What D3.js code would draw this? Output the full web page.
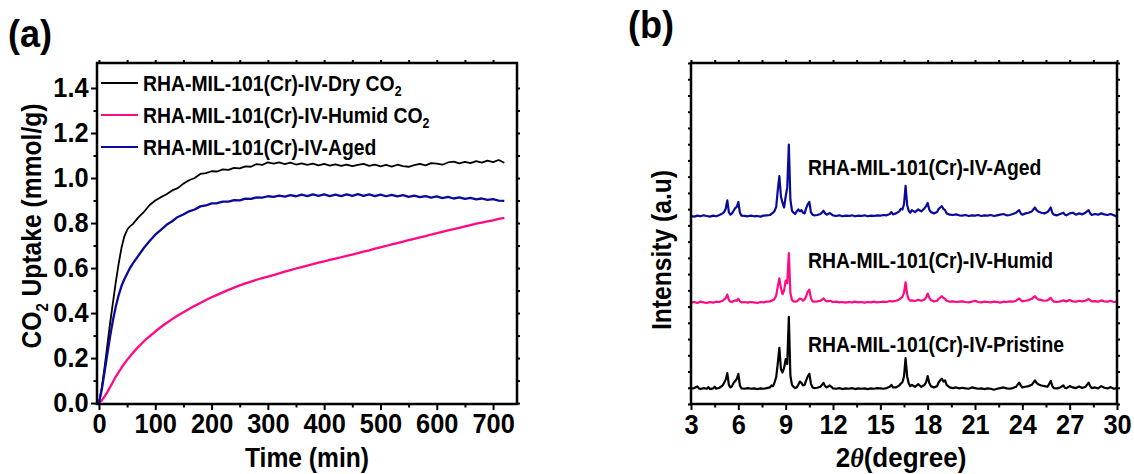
<!DOCTYPE html>
<html>
<head>
<meta charset="utf-8">
<script src="https://cdn.jsdelivr.net/npm/d3@7"></script>
<style>
  body { margin: 0; background: #fff; }
  svg text { font-family: "Liberation Sans", Arial, Helvetica, sans-serif; font-weight: bold; fill: #000; }
</style>
</head>
<body>
<svg id="fig" width="1134" height="474"></svg>
<script>
// ---------- (a) CO2 uptake kinetics ----------
const timeMin = [0,5,10,15,20,25,30,35,40,45,50,55,60,70,80,90,100,110,120,130,140,150,160,170,180,190,200,
  210,220,230,240,250,260,270,280,290,300,310,320,330,340,350,360,370,380,390,400,410,420,430,440,450,460,470,
  480,490,500,510,520,530,540,550,560,570,580,590,600,610,620,630,640,650,660,670,680,690,700,710,720];

const uptakeDry = [0,0.07,0.16,0.26,0.36,0.45,0.54,0.62,0.69,0.74,0.77,0.785,0.795,0.825,0.85,0.88,0.9,0.915,0.928,0.945,0.955,0.975,0.99,1.0,1.018,1.022,1.03,
  1.029,1.038,1.036,1.045,1.043,1.052,1.05,1.062,1.058,1.07,1.064,1.069,1.062,1.068,1.06,1.065,1.058,1.064,1.056,1.063,1.055,1.061,1.054,1.06,1.053,1.058,1.063,
  1.054,1.059,1.052,1.058,1.051,1.059,1.053,1.05,1.057,1.063,1.056,1.066,1.064,1.059,1.069,1.073,1.065,1.072,1.066,1.075,1.068,1.077,1.071,1.08,1.068];

const uptakeHumid = [0,0.012,0.03,0.05,0.072,0.095,0.118,0.138,0.157,0.175,0.192,0.207,0.222,0.25,0.275,0.297,0.318,0.338,0.356,0.373,0.389,0.404,0.418,0.432,0.445,0.458,0.47,
  0.481,0.492,0.503,0.513,0.523,0.532,0.54,0.548,0.555,0.562,0.569,0.576,0.584,0.591,0.598,0.604,0.611,0.617,0.624,0.63,0.636,0.642,0.648,0.654,0.66,0.666,0.673,
  0.679,0.686,0.692,0.698,0.705,0.711,0.717,0.724,0.73,0.736,0.742,0.749,0.755,0.761,0.767,0.773,0.779,0.785,0.791,0.797,0.802,0.807,0.812,0.818,0.823];

const uptakeAged = [0,0.06,0.14,0.22,0.3,0.37,0.43,0.48,0.52,0.55,0.575,0.6,0.62,0.655,0.69,0.72,0.748,0.77,0.792,0.808,0.827,0.838,0.852,0.86,0.874,0.878,0.887,
  0.888,0.895,0.895,0.902,0.901,0.908,0.907,0.914,0.913,0.919,0.916,0.922,0.917,0.924,0.919,0.926,0.92,0.927,0.921,0.927,0.92,0.926,0.92,0.927,0.921,0.928,0.921,
  0.927,0.92,0.926,0.919,0.925,0.918,0.924,0.916,0.922,0.915,0.92,0.913,0.918,0.911,0.916,0.909,0.914,0.907,0.912,0.905,0.909,0.903,0.906,0.9,0.898];

const uptakeNames = ["RHA-MIL-101(Cr)-IV-Dry CO", "RHA-MIL-101(Cr)-IV-Humid CO", "RHA-MIL-101(Cr)-IV-Aged"];
const uptakeSubs = ["2", "2", ""];
const uptakeColors = ["#000000", "#ff0a84", "#0a0a9c"];
const timeTicks = [0,100,200,300,400,500,600,700];
const timeMinorTicks = [50,150,250,350,450,550,650];
const uptakeTicks = [0,0.2,0.4,0.6,0.8,1.0,1.2,1.4];
const uptakeMinorTicks = [0.1,0.3,0.5,0.7,0.9,1.1,1.3];

// ---------- (b) XRD patterns: [2theta, intensity above own baseline] ----------
const xrdPristine = [[3.0,2],[3.2,4],[3.4,9],[3.5,3],[3.6,1],[3.8,4],[4.0,2],[4.1,7],[4.2,1],[4.4,3],[4.5,8],[4.6,2],[4.8,5],[5.0,12],[5.1,20],[5.2,30],[5.3,50],[5.4,14],[5.5,6],[5.6,10],[5.7,20],[5.8,26],[5.9,32],[6.0,48],[6.1,12],[6.2,3],[6.4,2],[6.6,4],[6.8,2],[7.0,3],[7.2,1],[7.4,3],[7.6,2],[7.8,4],[8.0,6],[8.1,12],[8.2,10],[8.3,22],[8.4,38],[8.5,80],[8.6,128],[8.7,62],[8.8,52],[8.9,66],[9.0,93],[9.1,78],[9.2,223],[9.3,42],[9.4,14],[9.5,8],[9.6,4],[9.7,6],[9.8,14],[9.9,24],[10.0,20],[10.1,12],[10.2,14],[10.3,28],[10.4,40],[10.5,48],[10.6,18],[10.7,6],[10.8,4],[11.0,5],[11.2,8],[11.3,14],[11.4,20],[11.5,10],[11.6,6],[11.8,12],[11.9,8],[12.0,3],[12.2,2],[12.4,4],[12.6,1],[12.8,3],[13.0,2],[13.2,4],[13.4,1],[13.6,3],[13.8,2],[14.0,3],[14.2,1],[14.4,3],[14.6,2],[14.8,4],[15.0,3],[15.2,2],[15.4,4],[15.6,8],[15.7,14],[15.8,6],[16.0,6],[16.2,12],[16.3,18],[16.4,22],[16.5,40],[16.6,96],[16.7,40],[16.8,18],[16.9,10],[17.0,14],[17.2,8],[17.4,16],[17.5,12],[17.6,8],[17.8,14],[17.9,22],[18.0,41],[18.1,20],[18.2,10],[18.4,6],[18.6,10],[18.7,22],[18.8,28],[18.9,33],[19.0,24],[19.1,28],[19.2,14],[19.4,6],[19.6,4],[19.8,6],[20.0,3],[20.2,5],[20.4,3],[20.6,2],[20.8,6],[21.0,4],[21.2,2],[21.4,3],[21.6,1],[21.8,3],[22.0,2],[22.2,-1],[22.4,2],[22.6,4],[22.8,6],[23.0,3],[23.2,2],[23.4,4],[23.6,8],[23.8,21],[23.9,12],[24.0,6],[24.2,8],[24.4,10],[24.6,14],[24.8,28],[24.9,20],[25.0,16],[25.2,12],[25.4,10],[25.6,8],[25.8,26],[25.9,10],[26.0,4],[26.2,3],[26.4,6],[26.6,12],[26.7,5],[26.8,4],[27.0,10],[27.2,6],[27.4,4],[27.6,9],[27.8,4],[28.0,8],[28.2,21],[28.3,10],[28.4,4],[28.6,6],[28.8,3],[29.0,10],[29.2,5],[29.4,3],[29.6,7],[29.8,2],[30.0,4]];

const xrdHumid = [[3.0,0],[3.2,2],[3.4,-1],[3.6,3],[3.8,1],[4.0,-1],[4.2,2],[4.4,0],[4.6,3],[4.8,2],[5.0,6],[5.1,10],[5.2,14],[5.3,25],[5.4,8],[5.5,3],[5.6,2],[5.7,5],[5.8,7],[5.9,6],[6.0,12],[6.1,4],[6.2,1],[6.4,2],[6.6,0],[6.8,2],[7.0,1],[7.2,-1],[7.4,2],[7.6,1],[7.8,3],[8.0,4],[8.2,8],[8.3,12],[8.4,22],[8.5,50],[8.6,75],[8.7,45],[8.8,26],[8.9,38],[9.0,68],[9.1,60],[9.2,153],[9.3,30],[9.4,8],[9.5,4],[9.6,3],[9.7,4],[9.8,8],[9.9,13],[10.0,11],[10.1,6],[10.2,10],[10.3,20],[10.4,34],[10.5,40],[10.6,14],[10.7,4],[10.8,3],[11.0,4],[11.2,6],[11.3,9],[11.4,13],[11.5,7],[11.6,4],[11.8,6],[12.0,2],[12.2,3],[12.4,1],[12.6,2],[12.8,0],[13.0,2],[13.2,1],[13.4,3],[13.6,1],[13.8,2],[14.0,0],[14.2,2],[14.4,1],[14.6,3],[14.8,1],[15.0,2],[15.2,3],[15.4,2],[15.6,5],[15.8,4],[16.0,6],[16.2,10],[16.3,14],[16.4,18],[16.5,30],[16.6,63],[16.7,26],[16.8,10],[16.9,6],[17.0,7],[17.2,5],[17.4,9],[17.6,6],[17.8,10],[17.9,16],[18.0,28],[18.1,16],[18.2,8],[18.4,4],[18.6,6],[18.7,12],[18.8,16],[18.9,20],[19.0,14],[19.1,12],[19.2,6],[19.4,3],[19.6,4],[19.8,2],[20.0,3],[20.2,4],[20.4,2],[20.6,1],[20.8,3],[21.0,6],[21.2,2],[21.4,1],[21.6,3],[21.8,2],[22.0,1],[22.2,3],[22.4,2],[22.6,0],[22.8,3],[23.0,2],[23.2,4],[23.4,3],[23.6,6],[23.8,13],[23.9,8],[24.0,4],[24.2,6],[24.4,8],[24.6,12],[24.8,20],[24.9,14],[25.0,10],[25.2,8],[25.4,6],[25.6,7],[25.8,15],[25.9,8],[26.0,3],[26.2,2],[26.4,4],[26.6,7],[26.8,4],[27.0,8],[27.2,4],[27.4,3],[27.6,6],[27.8,4],[28.0,6],[28.2,11],[28.4,4],[28.6,5],[28.8,3],[29.0,7],[29.2,4],[29.4,3],[29.6,6],[29.8,2],[30.0,3]];

const xrdAged = [[3.0,0],[3.2,-2],[3.4,1],[3.6,-1],[3.8,2],[4.0,0],[4.2,-2],[4.4,1],[4.6,-1],[4.8,3],[5.0,8],[5.1,12],[5.2,22],[5.3,48],[5.4,12],[5.5,4],[5.6,8],[5.7,16],[5.8,24],[5.9,28],[6.0,43],[6.1,10],[6.2,1],[6.4,0],[6.6,-1],[6.8,1],[7.0,-1],[7.2,0],[7.4,-2],[7.6,1],[7.8,2],[8.0,3],[8.2,10],[8.3,16],[8.4,28],[8.5,80],[8.6,123],[8.7,60],[8.8,40],[8.9,26],[9.0,60],[9.1,88],[9.2,220],[9.3,50],[9.4,16],[9.5,10],[9.6,6],[9.7,14],[9.8,20],[9.9,14],[10.0,18],[10.1,10],[10.2,8],[10.3,24],[10.4,36],[10.5,43],[10.6,12],[10.7,4],[10.8,2],[11.0,3],[11.2,6],[11.3,10],[11.4,16],[11.5,8],[11.6,4],[11.8,9],[12.0,2],[12.2,0],[12.4,2],[12.6,-1],[12.8,1],[13.0,0],[13.2,2],[13.4,-1],[13.6,1],[13.8,0],[14.0,2],[14.2,-1],[14.4,1],[14.6,0],[14.8,2],[15.0,1],[15.2,3],[15.4,2],[15.6,6],[15.7,12],[15.8,5],[16.0,8],[16.2,14],[16.3,22],[16.4,20],[16.5,36],[16.6,93],[16.7,34],[16.8,16],[16.9,10],[17.0,18],[17.2,12],[17.4,20],[17.6,14],[17.8,24],[17.9,30],[18.0,40],[18.1,20],[18.2,12],[18.4,8],[18.6,12],[18.7,22],[18.8,26],[18.9,30],[19.0,22],[19.1,18],[19.2,8],[19.4,4],[19.6,3],[19.8,5],[20.0,2],[20.2,1],[20.4,3],[20.6,0],[20.8,2],[21.0,1],[21.2,3],[21.4,0],[21.6,2],[21.8,1],[22.0,3],[22.2,0],[22.4,2],[22.6,4],[22.8,6],[23.0,2],[23.2,3],[23.4,6],[23.6,10],[23.8,18],[23.9,8],[24.0,4],[24.2,8],[24.4,10],[24.6,14],[24.8,26],[24.9,18],[25.0,14],[25.2,10],[25.4,8],[25.6,12],[25.8,26],[25.9,10],[26.0,4],[26.2,2],[26.4,6],[26.6,10],[26.7,4],[26.8,2],[27.0,8],[27.2,10],[27.4,4],[27.6,8],[27.8,5],[28.0,10],[28.2,18],[28.3,8],[28.4,3],[28.6,6],[28.8,4],[29.0,8],[29.2,5],[29.4,3],[29.6,6],[29.8,2],[30.0,-2]];

const xrdNames = ["RHA-MIL-101(Cr)-IV-Pristine", "RHA-MIL-101(Cr)-IV-Humid", "RHA-MIL-101(Cr)-IV-Aged"];
const xrdColors = ["#000000", "#ff0a84", "#0a0a9c"];
const xrdOffsets = [45, 312, 579];
const twoThetaTicks = [3,6,9,12,15,18,21,24,27,30];
const twoThetaMinorTicks = [4.5,7.5,10.5,13.5,16.5,19.5,22.5,25.5,28.5];
const intensityTicks = [0,50,100,150,200,250,300,350,400,450,500,550,600,650,700,750,800,850,900,950,1000,1050];

// ---------- drawing ----------
const svg = d3.select("#fig");
const TICK_FONT = 27, TICK_SQUEEZE = 0.94;   // tall, slightly narrow digits
const LABEL_FONT = 22, LABEL_SQUEEZE = 0.88;
const TITLE_FONT = 28, TITLE_SQUEEZE = 0.88;

function addAxis(axis, transform) {
  const g = svg.append("g").attr("transform", transform).call(axis);
  g.select(".domain").remove();
  g.selectAll(".tick line").attr("stroke", "#000").attr("stroke-width", 2);
  g.selectAll(".tick text").attr("font-size", TICK_FONT).attr("fill", "#000")
    .attr("font-family", "'Liberation Sans', Arial, sans-serif").attr("font-weight", "bold")
    .attr("transform", `scale(${TICK_SQUEEZE},1)`);
  return g;
}

function addFrame(x, y) {
  svg.append("rect")
    .attr("x", x.range()[0]).attr("y", y.range()[1])
    .attr("width", x.range()[1] - x.range()[0])
    .attr("height", y.range()[0] - y.range()[1])
    .attr("fill", "none").attr("stroke", "#000").attr("stroke-width", 2.5);
}

// text placed at (x, y), optionally rotated, narrowed along its reading direction
function addText(x, y, rot, squeeze, size, anchor) {
  return svg.append("text")
    .attr("transform", `translate(${x},${y}) rotate(${rot}) scale(${squeeze},1)`)
    .attr("text-anchor", anchor).attr("font-size", size);
}

// ----- panel (a) -----
const xA = d3.scaleLinear().domain([-3.5, 742.5]).range([97, 517]);
const yA = d3.scaleLinear().domain([-0.004, 1.511]).range([404, 63]);
const [aL, aR] = xA.range(), [aB, aT] = yA.range();

addAxis(d3.axisBottom(xA).tickValues(timeTicks).tickSize(6).tickPadding(4), `translate(0,${aB})`);
addAxis(d3.axisBottom(xA).tickValues(timeMinorTicks).tickSize(3.5).tickFormat(""), `translate(0,${aB})`);
addAxis(d3.axisTop(xA).tickValues(timeTicks.concat(timeMinorTicks)).tickSize(3).tickFormat(""), `translate(0,${aT})`);
addAxis(d3.axisLeft(yA).tickValues(uptakeTicks).tickSize(6).tickPadding(3).tickFormat(d3.format(".1f")), `translate(${aL},0)`);
addAxis(d3.axisLeft(yA).tickValues(uptakeMinorTicks).tickSize(3.5).tickFormat(""), `translate(${aL},0)`);
addAxis(d3.axisRight(yA).tickValues(uptakeTicks.concat(uptakeMinorTicks)).tickSize(3).tickFormat(""), `translate(${aR},0)`);

const lineA = d3.line().x(d => xA(d[0])).y(d => yA(d[1]));
const uptakeSeries = [uptakeDry, uptakeHumid, uptakeAged];
// humid underneath, dry and aged on top
[1, 0, 2].forEach(i => {
  svg.append("path")
    .datum(d3.zip(timeMin, uptakeSeries[i]))
    .attr("d", lineA)
    .attr("fill", "none")
    .attr("stroke", uptakeColors[i])
    .attr("stroke-width", i === 0 ? 1.8 : 2.3)
    .attr("stroke-linejoin", "round");
});

addFrame(xA, yA);

// legend
uptakeNames.forEach((name, i) => {
  const yy = 83 + i * 32;
  svg.append("line").attr("x1", 101).attr("x2", 138).attr("y1", yy).attr("y2", yy)
    .attr("stroke", uptakeColors[i]).attr("stroke-width", 2.2);
  const t = addText(143, yy + 8, 0, LABEL_SQUEEZE, LABEL_FONT, "start");
  t.append("tspan").text(name);
  if (uptakeSubs[i]) t.append("tspan").attr("font-size", 14).attr("dy", 5).text(uptakeSubs[i]);
});

// axis titles (a)
addText((aL + aR) / 2, 467, 0, TITLE_SQUEEZE, TITLE_FONT, "middle").text("Time (min)");
const yTitleA = addText(41, 226, -90, TITLE_SQUEEZE, TITLE_FONT, "middle");
yTitleA.append("tspan").text("CO");
yTitleA.append("tspan").attr("font-size", 17).attr("dy", 7).text("2");
yTitleA.append("tspan").attr("dy", -7).text(" Uptake (mmol/g)");

addText(8, 47, 0, 0.95, 38, "start").text("(a)");

// ----- panel (b) -----
const xB = d3.scaleLinear().domain([3, 30]).range([691, 1117]);
const yB = d3.scaleLinear().domain([0, 1050]).range([404, 63]);
const [bL, bR] = xB.range(), [bB, bT] = yB.range();

addAxis(d3.axisBottom(xB).tickValues(twoThetaTicks).tickSize(6).tickPadding(5), `translate(0,${bB})`);
addAxis(d3.axisBottom(xB).tickValues(twoThetaMinorTicks).tickSize(3.5).tickFormat(""), `translate(0,${bB})`);
addAxis(d3.axisTop(xB).tickValues(twoThetaTicks.concat(twoThetaMinorTicks)).tickSize(3).tickFormat(""), `translate(0,${bT})`);
addAxis(d3.axisLeft(yB).tickValues(intensityTicks).tickSize(3).tickFormat(""), `translate(${bL},0)`);
addAxis(d3.axisRight(yB).tickValues(intensityTicks).tickSize(3).tickFormat(""), `translate(${bR},0)`);

const xrdSeries = [xrdPristine, xrdHumid, xrdAged];
xrdSeries.forEach((pts, i) => {
  const line = d3.line().x(d => xB(d[0])).y(d => yB(d[1] + xrdOffsets[i]));
  svg.append("path").datum(pts).attr("d", line)
    .attr("fill", "none").attr("stroke", xrdColors[i]).attr("stroke-width", 2.2)
    .attr("stroke-linejoin", "round");
});

addFrame(xB, yB);

// sample labels above each pattern
const xrdLabelY = [352, 268, 175];
xrdNames.forEach((name, i) => {
  addText(808, xrdLabelY[i], 0, LABEL_SQUEEZE, LABEL_FONT, "start").text(name);
});

// axis titles (b)
const xTitleB = addText((bL + bR) / 2 - 3, 467, 0, 0.93, TITLE_FONT, "middle");
xTitleB.append("tspan").text("2");
xTitleB.append("tspan").attr("font-family", "'Liberation Serif', 'Times New Roman', serif")
  .attr("font-style", "italic").attr("font-weight", "bold").text("θ");
xTitleB.append("tspan").text("(degree)");

addText(671, 250, -90, TITLE_SQUEEZE, TITLE_FONT, "middle").text("Intensity (a.u)");

addText(628, 38, 0, 0.95, 38, "start").text("(b)");
</script>
</body>
</html>
